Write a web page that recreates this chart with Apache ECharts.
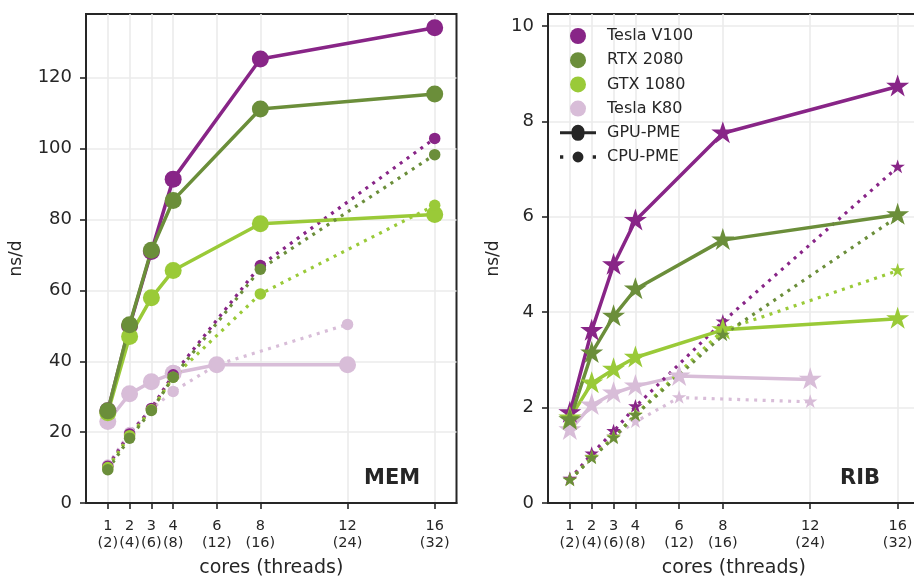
<!DOCTYPE html>
<html>
<head>
<meta charset="utf-8">
<script src="https://cdn.jsdelivr.net/npm/echarts@6/dist/echarts.min.js"></script>
<style>
html,body{margin:0;padding:0;background:#fff;}
#chart{width:914px;height:577px;}
</style>
</head>
<body>
<div id="chart"></div>
<script>
// ---- data ----
const cores = [1, 2, 3, 4, 6, 8, 12, 16];
const coreLabels = ['1\n(2)', '2\n(4)', '3\n(6)', '4\n(8)', '6\n(12)', '8\n(16)', '12\n(24)', '16\n(32)'];
const xMain = [1, 2, 3, 4, 8, 16];
const xK80 = [1, 2, 3, 4, 6, 12];
const cards = ['Tesla V100', 'RTX 2080', 'GTX 1080', 'Tesla K80'];
const pmeTypes = ['GPU-PME', 'CPU-PME'];
const memTicks = [0, 20, 40, 60, 80, 100, 120];
const ribTicks = [0, 2, 4, 6, 8, 10];
const panelNames = ['MEM', 'RIB'];

// MEM (ns/d)
const memV100Gpu = [26, 50, 71, 91.4, 125.3, 134.1];
const memV100Cpu = [10.4, 19.5, 26.7, 36.2, 67, 102.9];
const memRtxGpu = [26, 50.3, 71.3, 85.4, 111.2, 115.4];
const memRtxCpu = [9.4, 18.3, 26.1, 35.5, 66, 98.3];
const memGtxGpu = [25.5, 47, 57.9, 65.6, 78.8, 81.4];
const memGtxCpu = [10, 19, 26.3, 35.5, 59, 84];
const memK80Gpu = [23, 30.8, 34.2, 36.6, 39, 39];
const memK80Cpu = [10.7, 19.9, 26.5, 31.5, 39, 50.4];

// RIB (ns/d)
const ribV100Gpu = [1.89, 3.61, 4.99, 5.92, 7.75, 8.73];
const ribV100Cpu = [0.5, 1.03, 1.50, 2.02, 3.80, 7.04];
const ribRtxGpu = [1.74, 3.14, 3.91, 4.48, 5.51, 6.04];
const ribRtxCpu = [0.48, 0.94, 1.36, 1.84, 3.52, 6.0];
const ribGtxGpu = [1.78, 2.51, 2.80, 3.05, 3.63, 3.86];
const ribGtxCpu = [0.48, 0.96, 1.38, 1.85, 3.62, 4.87];
const ribK80Gpu = [1.53, 2.05, 2.30, 2.45, 2.66, 2.59];
const ribK80Cpu = [0.5, 0.97, 1.40, 1.70, 2.21, 2.12];

// ---- styles ----
const colors = {'Tesla V100': '#882587', 'RTX 2080': '#6b8e3a', 'GTX 1080': '#9aca38', 'Tesla K80': '#d8bdd8'};
const ink = '#262626';
const gridColor = '#ebebeb';
const font = 'DejaVu Sans';
const STAR = 'path://M100,0 L122.45,69.1 L195.11,69.1 L136.33,111.8 L158.78,180.9 L100,138.2 L41.22,180.9 L63.67,111.8 L4.89,69.1 L77.55,69.1 Z';

function pairs(xs, ys) { return xs.map((x, i) => [x, ys[i]]); }

function mkSeries(panel, card, pme, xs, ys) {
  const gpu = pme === 'GPU-PME';
  const isStar = panel === 1;
  let symbol = 'circle', size = gpu ? 17 : 11.5, offset = [0, 0];
  if (isStar) {
    symbol = STAR;
    size = gpu ? [23, 22] : [14.5, 13.8];
    offset = [0, '-5%'];
  }
  return {
    type: 'line', name: card,
    xAxisIndex: panel, yAxisIndex: panel,
    data: pairs(xs, ys),
    symbol: symbol, symbolSize: size, symbolOffset: offset,
    showSymbol: true,
    itemStyle: {color: colors[card], borderWidth: 0},
    lineStyle: gpu ? {color: colors[card], width: 3.5, type: 'solid'}
                   : {color: colors[card], width: 3.2, type: [3, 5.5], cap: 'butt'},
    emphasis: {disabled: true},
    z: 2
  };
}

const panels = [
  {K80: [memK80Gpu, memK80Cpu], V100: [memV100Gpu, memV100Cpu], GTX: [memGtxGpu, memGtxCpu], RTX: [memRtxGpu, memRtxCpu]},
  {K80: [ribK80Gpu, ribK80Cpu], V100: [ribV100Gpu, ribV100Cpu], GTX: [ribGtxGpu, ribGtxCpu], RTX: [ribRtxGpu, ribRtxCpu]}
];
const series = [];
panels.forEach((p, i) => {
  series.push(mkSeries(i, 'Tesla K80', 'GPU-PME', xK80, p.K80[0]));
  series.push(mkSeries(i, 'Tesla K80', 'CPU-PME', xK80, p.K80[1]));
  series.push(mkSeries(i, 'Tesla V100', 'GPU-PME', xMain, p.V100[0]));
  series.push(mkSeries(i, 'Tesla V100', 'CPU-PME', xMain, p.V100[1]));
  series.push(mkSeries(i, 'GTX 1080', 'GPU-PME', xMain, p.GTX[0]));
  series.push(mkSeries(i, 'GTX 1080', 'CPU-PME', xMain, p.GTX[1]));
  series.push(mkSeries(i, 'RTX 2080', 'GPU-PME', xMain, p.RTX[0]));
  series.push(mkSeries(i, 'RTX 2080', 'CPU-PME', xMain, p.RTX[1]));
});
pmeTypes.forEach(n => series.push({type: 'line', name: n, xAxisIndex: 1, yAxisIndex: 1, data: [], itemStyle: {color: ink}}));

const labelMap = {};
cores.forEach((c, i) => { labelMap[c] = coreLabels[i]; });

function xAxis(i) {
  return {
    gridIndex: i, type: 'value', min: 0, max: 17,
    name: 'cores (threads)', nameLocation: 'middle', nameGap: 56,
    nameTextStyle: {fontSize: 19, color: ink, fontFamily: font},
    axisLine: {show: true, onZero: false, lineStyle: {color: ink, width: 2}},
    axisTick: {show: true, length: 6, customValues: cores, lineStyle: {color: ink, width: 1.6}},
    axisLabel: {customValues: cores, formatter: v => labelMap[v] || '', fontSize: 14.5, lineHeight: 17, margin: 15, color: ink, fontFamily: font},
    splitLine: {show: true, lineStyle: {color: gridColor, width: 1.6}}
  };
}
function yAxis(i, max, ticks) {
  return {
    gridIndex: i, type: 'value', min: 0, max: max,
    name: 'ns/d', nameLocation: 'middle', nameGap: i === 0 ? 61 : 46,
    nameTextStyle: {fontSize: 17, color: ink, fontFamily: font},
    axisLine: {show: true, onZero: false, lineStyle: {color: ink, width: 2}},
    axisTick: {show: true, length: 6, customValues: ticks, lineStyle: {color: ink, width: 1.6}},
    axisLabel: {customValues: ticks, fontSize: 18, margin: 14, color: ink, fontFamily: font},
    splitLine: {show: true, lineStyle: {color: gridColor, width: 1.6}}
  };
}

const GPU_ICON = 'path://M0,6.5 L11.5,6.5 A6.5,6.5 0 0 1 24.5,6.5 L36,6.5 L36,9.5 L24.5,9.5 A6.5,6.5 0 0 1 11.5,9.5 L0,9.5 Z';
const CPU_ICON = 'path://M1.5,6.5 L4.5,6.5 L4.5,9.5 L1.5,9.5 Z M13,8 A5,5 0 1 0 23,8 A5,5 0 1 0 13,8 Z M31.5,6.5 L34.5,6.5 L34.5,9.5 L31.5,9.5 Z';

const legendData = cards.map(c => ({name: c, icon: 'circle', itemStyle: {color: colors[c]}}))
  .concat([{name: 'GPU-PME', icon: GPU_ICON, itemStyle: {color: ink}}, {name: 'CPU-PME', icon: CPU_ICON, itemStyle: {color: ink}}]);

const option = {
  animation: false,
  backgroundColor: '#fff',
  textStyle: {fontFamily: font, color: ink},
  grid: [
    {left: 86, top: 14, width: 370.5, height: 489, show: true, borderColor: ink, borderWidth: 2, containLabel: false, outerBoundsMode: 'none'},
    {left: 548, top: 14, width: 371.5, height: 489, show: true, borderColor: ink, borderWidth: 2, containLabel: false, outerBoundsMode: 'none'}
  ],
  xAxis: [xAxis(0), xAxis(1)],
  yAxis: [yAxis(0, 138, memTicks), yAxis(1, 10.25, ribTicks)],
  legend: {
    show: true, orient: 'vertical', left: 555, top: 23,
    itemWidth: 36, itemHeight: 16, itemGap: 8.2,
    selectedMode: false,
    textStyle: {fontSize: 16, color: ink, fontFamily: font, padding: [0, 0, 0, 6]},
    data: legendData
  },
  graphic: [
    {type: 'text', left: 364, top: 468, style: {text: panelNames[0], font: 'bold 21px "DejaVu Sans"', fill: ink}},
    {type: 'text', left: 840, top: 468, style: {text: panelNames[1], font: 'bold 21px "DejaVu Sans"', fill: ink}}
  ],
  series: series
};

const chart = echarts.init(document.getElementById('chart'), null, {renderer: 'canvas'});
chart.setOption(option);
</script>
</body>
</html>
